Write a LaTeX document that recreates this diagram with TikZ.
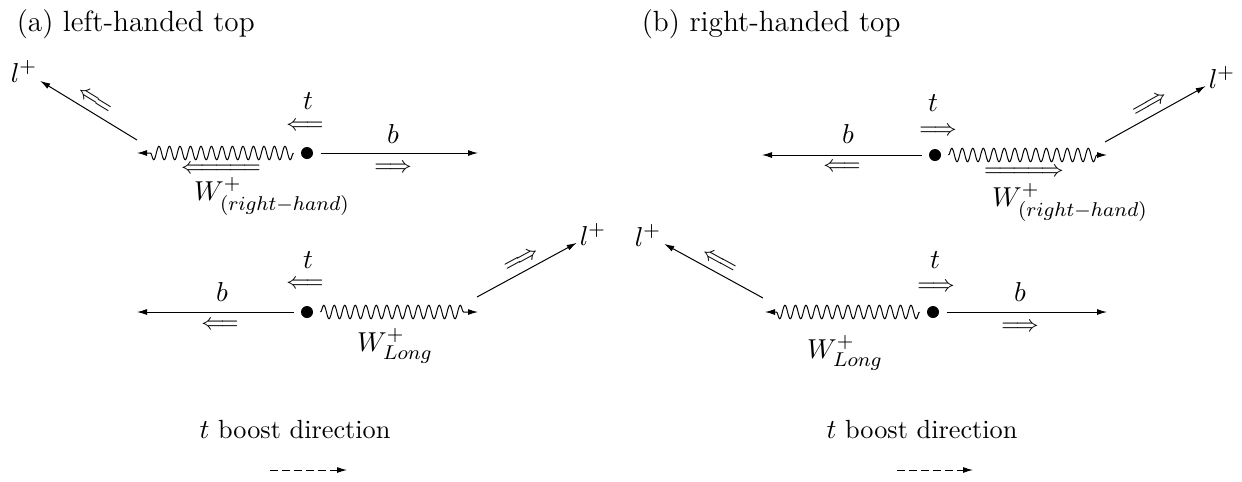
\documentclass[tikz,border=0pt]{standalone}
\usetikzlibrary{arrows.meta,decorations.pathmorphing}

% long spin arrows under the W lines
\newcommand{\spinWL}{\Leftarrow\joinrel\Relbar\joinrel\Relbar\joinrel\Relbar\joinrel\Relbar}
\newcommand{\spinWR}{\Relbar\joinrel\Relbar\joinrel\Relbar\joinrel\Relbar\joinrel\Rightarrow}

\begin{document}
\begin{tikzpicture}[
  x=0.4pt, y=-0.4pt,
  font=\fontsize{11}{13}\selectfont,
  title/.style={anchor=base west, font=\fontsize{11.7}{14}\selectfont},
  vertex/.style={circle, fill=black, inner sep=0pt, minimum size=4.8pt, outer sep=3pt},
  lbl/.style={inner sep=0pt},
  spin/.style={inner sep=0pt, font=\fontsize{9}{10}\selectfont},
  lep/.style={inner sep=1pt},
  fermion/.style={-{Latex[length=4pt,width=2.4pt]}},
  boson/.style={-{Latex[length=4pt,width=2.4pt]}, decorate,
    decoration={snake, amplitude=2.7pt, segment length=4.2pt, post length=4pt}},
  boost/.style={-{Latex[length=4pt,width=2.4pt]}, dash pattern=on 3pt off 1.8pt}
]
\useasboundingbox (0,0) rectangle (1242,481);

% (a) left-handed top
\node[title] (titleA) at (8,31) {(a) left-handed top};

\node[vertex] (ta1) at (307,153) {};
\coordinate (wa1) at (137,153);
\coordinate (ba1) at (478,153);
\coordinate (la1) at (137,140);
\node[lep] (lpa1) at (24,71) {$l^+$};
\draw[boson] (ta1) -- (wa1);
\draw[fermion] (ta1) -- (ba1);
\draw[fermion] (la1) -- node[spin, sloped, above=2.5pt] {$\Longleftarrow$} (lpa1);
\node[lbl] (tlabA1) at (308,101) {$t$};
\node[spin] (tspA1) at (305,126) {$\Longleftarrow$};
\node[lbl] (blabA1) at (393,134) {$b$};
\node[spin] (bspA1) at (393,168) {$\Longrightarrow$};
\node[spin] (wspA1) at (221,169) {$\spinWL$};
\node[lbl] (wlabA1) at (272,196) {$W^+_{(right-hand)}$};

\node[vertex] (ta2) at (307,312) {};
\coordinate (ba2) at (137,312);
\coordinate (wa2) at (478,312);
\coordinate (la2) at (477,297);
\node[lep] (lpa2) at (593,234) {$l^+$};
\draw[fermion] (ta2) -- (ba2);
\draw[boson] (ta2) -- (wa2);
\draw[fermion] (la2) -- node[spin, sloped, above=2.5pt] {$\Longrightarrow$} (lpa2);
\node[lbl] (tlabA2) at (308,260) {$t$};
\node[spin] (tspA2) at (305,284) {$\Longleftarrow$};
\node[lbl] (blabA2) at (222,292) {$b$};
\node[spin] (bspA2) at (220,325) {$\Longleftarrow$};
\node[lbl] (wlabA2) at (395,346) {$W^+_{Long}$};

\node[lbl, font=\fontsize{10.5}{12}\selectfont] (boostA) at (295,430) {$t$ boost direction};
\coordinate (bsA0) at (270,470);
\coordinate (bsA1) at (347,470);
\draw[boost] (bsA0) -- (bsA1);

% (b) right-handed top
\node[title] (titleB) at (633,31) {(b) right-handed top};

\node[vertex] (tb1) at (935,155) {};
\coordinate (bb1) at (762,155);
\coordinate (wb1) at (1107,155);
\coordinate (lb1) at (1105,142);
\node[lep] (lpb1) at (1222,77) {$l^+$};
\draw[fermion] (tb1) -- (bb1);
\draw[boson] (tb1) -- (wb1);
\draw[fermion] (lb1) -- node[spin, sloped, above=2.5pt] {$\Longrightarrow$} (lpb1);
\node[lbl] (tlabB1) at (933,103) {$t$};
\node[spin] (tspB1) at (938,131) {$\Longrightarrow$};
\node[lbl] (blabB1) at (848,134) {$b$};
\node[spin] (bspB1) at (842,167) {$\Longleftarrow$};
\node[spin] (wspB1) at (1024,172) {$\spinWR$};
\node[lbl] (wlabB1) at (1070,202) {$W^+_{(right-hand)}$};

\node[vertex] (tb2) at (933,312) {};
\coordinate (bb2) at (1107,312);
\coordinate (wb2) at (765,312);
\coordinate (lb2) at (763,298);
\node[lep] (lpb2) at (648,235) {$l^+$};
\draw[fermion] (tb2) -- (bb2);
\draw[boson] (tb2) -- (wb2);
\draw[fermion] (lb2) -- node[spin, sloped, above=2.5pt] {$\Longleftarrow$} (lpb2);
\node[lbl] (tlabB2) at (935,260) {$t$};
\node[spin] (tspB2) at (936,287) {$\Longrightarrow$};
\node[lbl] (blabB2) at (1020,292) {$b$};
\node[spin] (bspB2) at (1020,327) {$\Longrightarrow$};
\node[lbl] (wlabB2) at (845,353) {$W^+_{Long}$};

\node[lbl, font=\fontsize{10.5}{12}\selectfont] (boostB) at (922,430) {$t$ boost direction};
\coordinate (bsB0) at (897,470);
\coordinate (bsB1) at (973,470);
\draw[boost] (bsB0) -- (bsB1);

\end{tikzpicture}
\end{document}
